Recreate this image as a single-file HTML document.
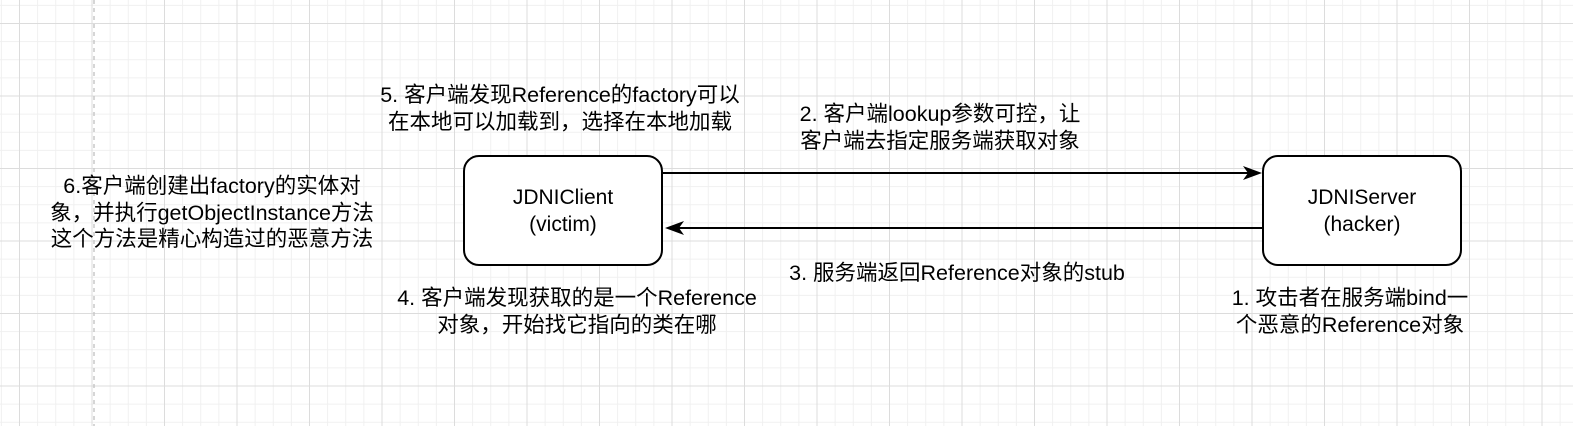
<!DOCTYPE html>
<html><head><meta charset="utf-8"><style>
body{margin:0;width:1573px;height:426px;overflow:hidden;background:#fff;font-family:"Liberation Sans","Noto Sans CJK SC",sans-serif;}
.bg{position:absolute;left:0;top:0;width:1573px;height:426px;
background-image:
linear-gradient(to right,#dcdcdc 1px,transparent 1px),
linear-gradient(to bottom,#dcdcdc 1px,transparent 1px),
linear-gradient(to right,#f0f0f0 1px,transparent 1px),
linear-gradient(to bottom,#f0f0f0 1px,transparent 1px);
background-size:72.5px 72.5px,72.5px 72.5px,18.125px 18.125px,18.125px 18.125px;
background-position:19px 23px,19px 23px,19px 23px,19px 23px;}
.t{position:absolute;font-size:21.5px;line-height:26.5px;color:#000;text-align:center;white-space:nowrap;transform:translateX(-50%);}
.box{position:absolute;border:2px solid #000;border-radius:16px;background:#fff;box-sizing:border-box;display:flex;align-items:center;justify-content:center;text-align:center;font-size:21px;line-height:27px;}
</style></head><body>
<div class="bg"></div>
<svg style="position:absolute;left:0;top:0" width="1573" height="426">
<line x1="94" y1="0" x2="94" y2="426" stroke="#c8c8c8" stroke-width="1.5" stroke-dasharray="4,4"/>
<line x1="662" y1="173" x2="1248" y2="173" stroke="#000" stroke-width="2"/>
<polygon points="1262,173 1243,166 1248,173 1243,180" fill="#000"/>
<line x1="1263" y1="228" x2="678" y2="228" stroke="#000" stroke-width="2"/>
<polygon points="665,228 684,221 679,228 684,235" fill="#000"/>
</svg>
<div class="box" style="left:463px;top:155px;width:200px;height:111px;">JDNIClient<br>(victim)</div>
<div class="box" style="left:1262px;top:155px;width:200px;height:111px;">JDNIServer<br>(hacker)</div>
<div class="t" style="left:560px;top:82px;">5. 客户端发现Reference的factory可以<br>在本地可以加载到，选择在本地加载</div>
<div class="t" style="left:940px;top:101px;">2. 客户端lookup参数可控，让<br>客户端去指定服务端获取对象</div>
<div class="t" style="left:212px;top:173px;">6.客户端创建出factory的实体对<br>象，并执行getObjectInstance方法<br>这个方法是精心构造过的恶意方法</div>
<div class="t" style="left:957px;top:260px;">3. 服务端返回Reference对象的stub</div>
<div class="t" style="left:577px;top:285px;">4. 客户端发现获取的是一个Reference<br>对象，开始找它指向的类在哪</div>
<div class="t" style="left:1350px;top:285px;">1. 攻击者在服务端bind一<br>个恶意的Reference对象</div>
</body></html>
